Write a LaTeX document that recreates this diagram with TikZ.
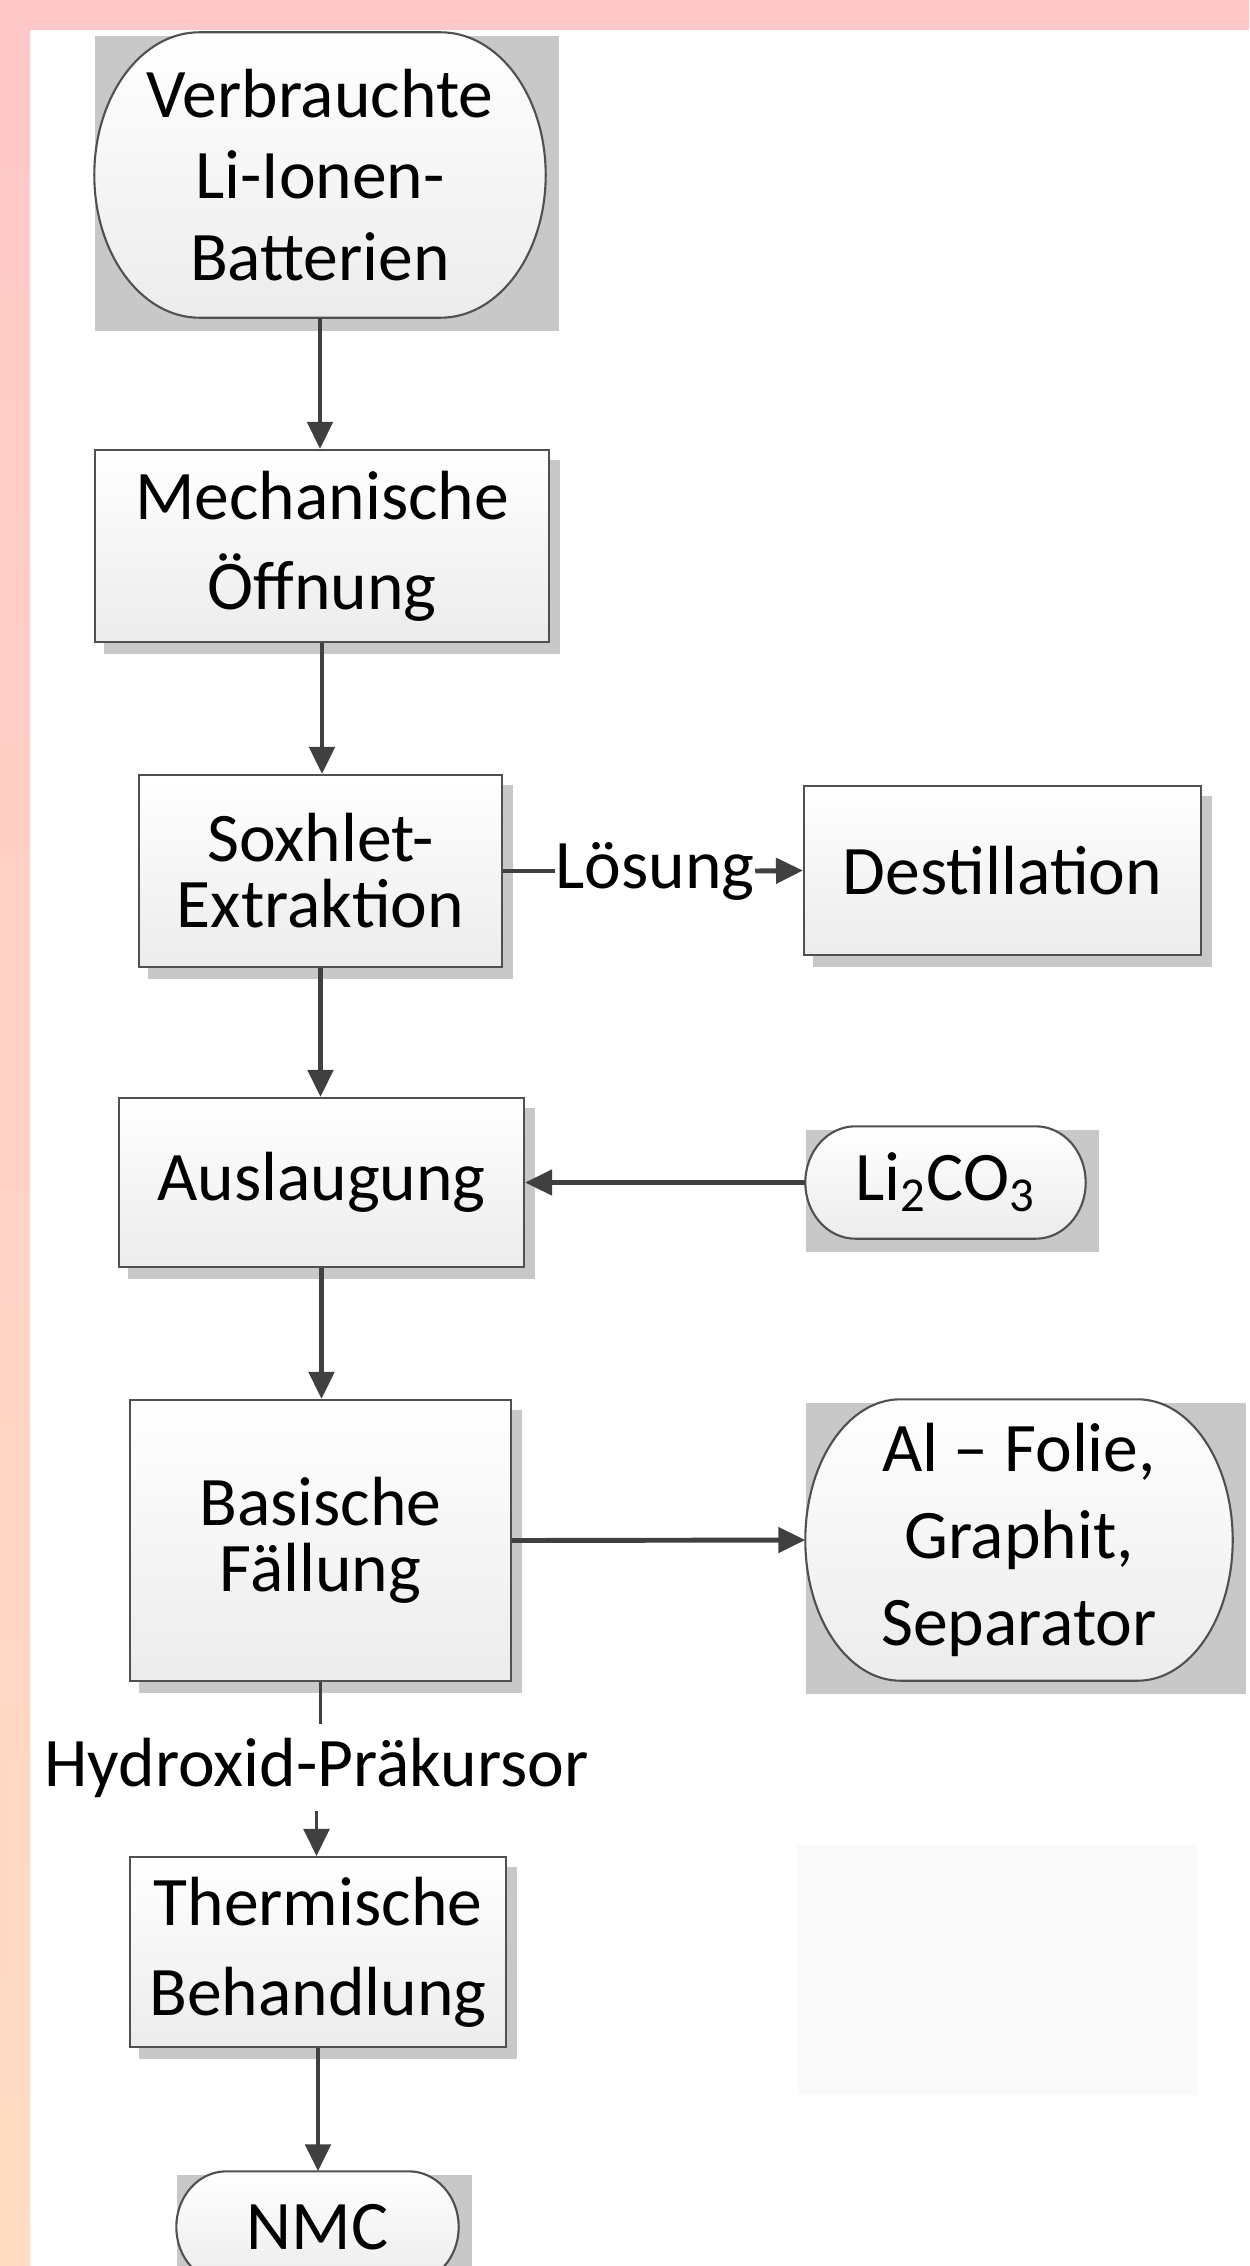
\documentclass[tikz,border=0pt]{standalone}
\usepackage{fontspec}
\setmainfont{Carlito}
\usepackage{xcolor}
\usepackage{tikz}
\usetikzlibrary{arrows.meta, calc}
\definecolor{recline}{HTML}{404040}
\definecolor{recborder}{HTML}{505050}
\definecolor{recfill}{HTML}{ECECEC}
\definecolor{recshadow}{HTML}{C8C8C8}
\definecolor{recpink}{HTML}{FFC8C8}
\definecolor{recpeach}{HTML}{FFDCC2}
\definecolor{recghost}{HTML}{FAFAFA}
\pgfdeclarelayer{back}
\pgfdeclarelayer{mid}
\pgfsetlayers{back,mid,main}
\tikzset{
    stepbox/.style={draw=recborder, line width=0.6pt, top color=white, bottom color=recfill, inner sep=0pt, align=center, font=\fontsize{19.8}{23.3}\selectfont},
    termbox/.style={inner sep=0pt, align=center, font=\fontsize{19.8}{23.3}\selectfont},
    termline/.style={draw=recborder, line width=0.6pt, top color=white, bottom color=recfill},
    flowlabel/.style={inner sep=0pt, font=\fontsize{19.8}{23.3}\selectfont},
    flow/.style={draw=recline, line width=1.4pt, -{Triangle[length=2.7mm, width=2.5mm]}},
    thinflow/.style={draw=recline, line width=0.6pt}
}

\begin{document}
\begin{tikzpicture}
    \useasboundingbox (0,0) rectangle (12.49,-22.66);
    \begin{pgfonlayer}{back}
        \fill[white] (0,0) rectangle (12.49,-22.66);
        % frame
        \shade[top color=recpink, bottom color=recpeach] (0,0) rectangle (0.30,-22.66);
        \fill[recpink] (0,0) rectangle (12.49,-0.30);
    \end{pgfonlayer}

    % main column
    \node[termbox, minimum width=4.50cm, minimum height=2.84cm] (batt) at (3.20,-1.75) {Verbrauchte\\Li-Ionen-\\Batterien};
    \node[stepbox, minimum width=4.54cm, minimum height=1.92cm, font=\fontsize{19.8}{25.6}\selectfont] (mech) at (3.22,-5.46) {Mechanische\\Öffnung};
    \node[stepbox, minimum width=3.63cm, minimum height=1.92cm, font=\fontsize{19.8}{18.8}\selectfont] (soxh) at (3.205,-8.71) {Soxhlet-\\Extraktion};
    \node[stepbox, minimum width=4.05cm, minimum height=1.69cm] (ausl) at (3.215,-11.825) {Auslaugung};
    \node[stepbox, minimum width=3.81cm, minimum height=2.81cm, font=\fontsize{19.8}{18.8}\selectfont] (fall) at (3.205,-15.405) {Basische\\Fällung};
    \node[flowlabel, minimum height=0.85cm] (prec) at (3.165,-17.675) {Hydroxid-Präkursor};
    \node[stepbox, minimum width=3.76cm, minimum height=1.90cm, font=\fontsize{19.8}{25.6}\selectfont] (therm) at (3.18,-19.52) {Thermische\\Behandlung};
    \node[termbox, minimum width=2.81cm, minimum height=1.10cm] (nmc) at (3.175,-22.27) {NMC};

    % side column
    \node[flowlabel] (loes) at (6.55,-8.71) {Lösung};
    \node[stepbox, minimum width=3.97cm, minimum height=1.69cm] (dest) at (10.025,-8.705) {Destillation};
    \node[termbox, minimum width=2.79cm, minimum height=1.11cm] (lico) at (9.455,-11.825) {Li\textsubscript{2}CO\textsubscript{3}};
    \node[termbox, minimum width=4.26cm, minimum height=2.80cm, font=\fontsize{19.8}{24.7}\selectfont] (rest) at (10.19,-15.40) {Al -- Folie,\\Graphit,\\Separator};
    \fill[recghost] (7.97,-18.45) rectangle (11.97,-20.95);

    % shadows and rounded ends
    \begin{pgfonlayer}{back}
        \foreach \nd in {mech,soxh,dest,ausl,fall,therm}
            \fill[recshadow] ([shift={(0.10,-0.11)}]\nd.north west) rectangle ([shift={(0.10,-0.11)}]\nd.south east);
        \foreach \nd in {batt,lico,rest,nmc}
            \fill[recshadow] ([shift={(0.01,-0.04)}]\nd.north west) rectangle ([shift={(0.13,-0.13)}]\nd.south east);
    \end{pgfonlayer}
    \begin{pgfonlayer}{mid}
        \foreach \nd/\rx in {batt/1.05, lico/0.50, rest/0.95, nmc/0.50}
            \draw[termline] let \p1=(\nd.north east), \p2=(\nd.south west) in
                ({\x2+\rx*1cm},\y1) -- ({\x1-\rx*1cm},\y1)
                arc[start angle=90, end angle=-90, x radius=\rx*1cm, y radius={(\y1-\y2)/2}]
                -- ({\x2+\rx*1cm},\y2)
                arc[start angle=270, end angle=90, x radius=\rx*1cm, y radius={(\y1-\y2)/2}] -- cycle;
    \end{pgfonlayer}

    % connectors
    \draw[flow] (batt.south) -- (batt.south |- mech.north);
    \draw[flow] (mech.south) -- (mech.south |- soxh.north);
    \draw[flow, -] (soxh.east) -- (loes.west);
    \draw[flow] (loes.east) -- (dest.west);
    \draw[flow] (soxh.south) -- (soxh.south |- ausl.north);
    \draw[flow] (lico.west) -- (ausl.east);
    \draw[flow] (ausl.south) -- (ausl.south |- fall.north);
    \draw[flow] (fall.east) -- (rest.west);
    \draw[thinflow] (fall.south) -- (fall.south |- prec.north);
    \draw[thinflow, -{Triangle[length=2.7mm, width=2.6mm]}] (prec.south) -- (prec.south |- therm.north);
    \draw[flow] (therm.south) -- (therm.south |- nmc.north);
\end{tikzpicture}
\end{document}
